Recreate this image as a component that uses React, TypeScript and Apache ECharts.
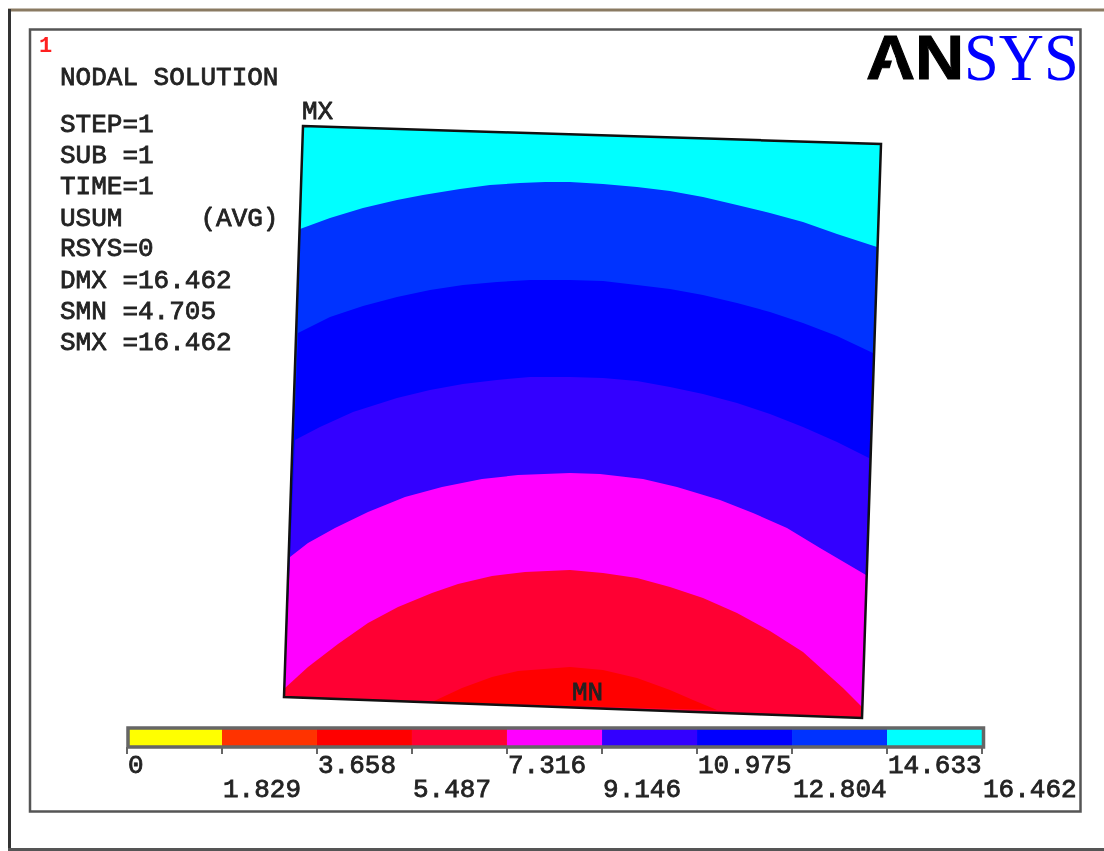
import React, { useEffect, useRef } from "react";
import * as echarts from "echarts";

// Plate outline corners (image-space axis units)
const plateCorners: number[][] = [[303, 126], [881, 144], [862, 718], [284, 697]];

// Contour boundaries from top to bottom
const contour14633: number[][] = [[300, 229], [330, 218], [363, 208], [397, 200], [423, 195], [460, 189], [490, 185], [520, 183], [545, 182], [570, 182], [603, 184], [637, 187], [670, 191], [703, 197], [737, 205], [770, 213], [803, 222], [837, 234], [877, 247]];
const contour12804: number[][] = [[298, 333], [330, 317], [363, 306], [397, 297], [430, 290], [463, 285], [497, 282], [530, 280], [570, 280], [603, 281], [637, 285], [670, 289], [703, 295], [737, 303], [770, 312], [803, 323], [837, 336], [873, 353]];
const contour10975: number[][] = [[295, 440], [320, 427], [353, 412], [397, 398], [430, 390], [463, 384], [497, 380], [530, 377], [570, 377], [603, 378], [637, 381], [670, 387], [703, 394], [737, 403], [770, 414], [803, 427], [837, 442], [869, 458]];
const contour9146: number[][] = [[290, 557], [308, 543], [335, 528], [368, 512], [405, 497], [442, 487], [482, 479], [518, 475], [570, 473], [600, 474], [643, 479], [677, 487], [720, 500], [753, 513], [787, 528], [820, 548], [866, 575]];
const contour7316: number[][] = [[285, 688], [308, 667], [338, 644], [368, 623], [398, 607], [432, 593], [458, 584], [492, 576], [525, 572], [570, 570], [603, 573], [637, 578], [670, 587], [703, 598], [737, 613], [770, 631], [803, 652], [823, 670], [843, 688], [862, 707]];
const contour5487: number[][] = [[432, 702], [462, 688], [492, 677], [518, 671], [570, 667], [603, 670], [637, 678], [670, 690], [693, 700], [717, 710]];

const contours = [contour14633, contour12804, contour10975, contour9146, contour7316, contour5487];

const plateBandColors = ["#00ffff", "#0033ff", "#0000ff", "#3300ff", "#ff00ff", "#ff0033", "#ff0000"];

// Colour key
const keyLevels = [0, 1.829, 3.658, 5.487, 7.316, 9.146, 10.975, 12.804, 14.633, 16.462];
const keyColors = ["#ffff00", "#ff3300", "#ff0000", "#ff0033", "#ff00ff", "#3300ff", "#0000ff", "#0033ff", "#00ffff"];
const keyRowOne = [0, 3.658, 7.316, 10.975, 14.633];
const keyRowTwo = [1.829, 5.487, 9.146, 12.804, 16.462];

// Text block
const infoLines = ["STEP=1", "SUB =1", "TIME=1", "USUM     (AVG)", "RSYS=0", "DMX =16.462", "SMN =4.705", "SMX =16.462"];
const infoLineY = [125, 156, 187, 219, 249, 281, 312, 343];

const MONO = '"Liberation Mono", monospace';
const INK = "#222222";

function bandPolygon(i: number): number[][] {
  if (i === 0) return plateCorners;
  const c = contours[i - 1];
  if (i === 6) return c;
  return [...c, plateCorners[2], plateCorners[3]];
}

function monoText(text: string, x: number, y: number, extra: any = {}) {
  return {
    type: "text",
    x,
    y,
    z: 100,
    style: {
      text,
      x: 0,
      y: 0,
      fill: INK,
      font: `26px ${MONO}`,
      verticalAlign: "middle",
      align: "left",
      stroke: INK,
      lineWidth: 0.8,
      ...extra,
    },
  };
}

export default function App() {
  const ref = useRef<HTMLDivElement>(null);
  useEffect(() => {
    const chart = echarts.init(ref.current!, undefined, { renderer: "svg" });
    const keyAxis = (values: number[], margin: number) => ({
      type: "value",
      gridIndex: 1,
      min: 0,
      max: 16.462,
      position: "bottom",
      splitLine: { show: false },
      axisLine: { show: false },
      axisTick: { show: true, length: 7, customValues: values, lineStyle: { color: "#666", width: 2 } },
      axisLabel: {
        show: true,
        customValues: values,
        margin,
        align: "left",
        padding: [0, 0, 0, 1],
        color: INK,
        fontFamily: MONO,
        fontSize: 26,
        textBorderColor: INK,
        textBorderWidth: 0.8,
      },
    });
    chart.setOption({
      animation: false,
      backgroundColor: "#ffffff",
      grid: [
        { left: 0, right: 0, top: 0, bottom: 0 },
        { left: 127, width: 855, top: 728, height: 19 },
      ],
      xAxis: [
        { type: "value", gridIndex: 0, min: 0, max: 1104, show: false },
        keyAxis(keyRowOne, 6),
        keyAxis(keyRowTwo, 30),
      ],
      yAxis: [
        { type: "value", gridIndex: 0, min: 0, max: 851, inverse: true, show: false },
        { type: "value", gridIndex: 1, min: 0, max: 1, show: false },
      ],
      series: [
        {
          type: "custom",
          name: "USUM bands",
          xAxisIndex: 0,
          yAxisIndex: 0,
          clip: false,
          silent: true,
          data: plateBandColors.map((_, i) => [i]),
          renderItem: (_p: any, api: any) => {
            const i = api.value(0);
            return {
              type: "polygon",
              shape: { points: bandPolygon(i).map((p) => api.coord(p)) },
              style: { fill: plateBandColors[i] },
            };
          },
        },
        {
          type: "custom",
          name: "Plate outline",
          xAxisIndex: 0,
          yAxisIndex: 0,
          clip: false,
          silent: true,
          z: 5,
          data: [[0]],
          renderItem: (_p: any, api: any) => ({
            type: "polygon",
            shape: { points: plateCorners.map((p) => api.coord(p)) },
            style: { fill: "none", stroke: "#111", lineWidth: 2.5 },
          }),
        },
        {
          type: "custom",
          name: "Colour key",
          xAxisIndex: 1,
          yAxisIndex: 1,
          silent: true,
          data: keyColors.map((_, i) => [keyLevels[i], keyLevels[i + 1], i]),
          renderItem: (_p: any, api: any) => {
            const a = api.coord([api.value(0), 1]);
            const b = api.coord([api.value(1), 0]);
            return {
              type: "rect",
              shape: { x: a[0], y: a[1], width: b[0] - a[0], height: b[1] - a[1] },
              style: { fill: keyColors[api.value(2)] },
            };
          },
        },
      ],
      graphic: [
        // picture frame
        { type: "line", shape: { x1: 8, y1: 10, x2: 1104, y2: 10 }, style: { stroke: "#8a7a62", lineWidth: 3 } },
        { type: "line", shape: { x1: 9.5, y1: 9, x2: 9.5, y2: 851 }, style: { stroke: "#333", lineWidth: 3 } },
        { type: "line", shape: { x1: 8, y1: 849.5, x2: 1104, y2: 849.5 }, style: { stroke: "#555", lineWidth: 3 } },
        { type: "rect", shape: { x: 30, y: 29.5, width: 1050.5, height: 782 }, style: { fill: "none", stroke: "#555", lineWidth: 2.5 } },
        // colour key frame
        { type: "rect", z: 50, shape: { x: 128, y: 728, width: 855.5, height: 19 }, style: { fill: "none", stroke: "#666", lineWidth: 3.5 } },
        // text
        { type: "text", x: 39, y: 46, z: 100, style: { text: "1", x: 0, y: 0, fill: "#ff2020", font: `bold 22px ${MONO}`, verticalAlign: "middle" } },
        monoText("NODAL SOLUTION", 60, 78),
        ...infoLines.map((t, i) => monoText(t, 60, infoLineY[i])),
        monoText("MX", 302, 112),
        monoText("MN", 572, 693),
        // logo
        {
          type: "text", x: 866, y: 89, z: 100, scaleX: 1.08,
          style: { text: "AN", x: 0, y: 0, fill: "#000", stroke: "#000", lineWidth: 1, font: 'bold 63px "Liberation Sans"', verticalAlign: "bottom", align: "left" },
        },
        { type: "polygon", z: 101, shape: { points: [[894, 54], [885, 84], [904, 84]] }, style: { fill: "#fff" } },
        {
          type: "text", x: 964, y: 91, z: 100, scaleX: 0.92,
          style: { text: "SYS", x: 0, y: 0, fill: "#0000ff", font: '68px "Liberation Serif"', verticalAlign: "bottom", align: "left" },
        },
      ],
    });
    return () => chart.dispose();
  }, []);
  return (
    <div
      ref={ref}
      style={{ position: "fixed", left: 0, top: 0, width: 1104, height: 851, filter: "blur(0.6px)" }}
    />
  );
}
